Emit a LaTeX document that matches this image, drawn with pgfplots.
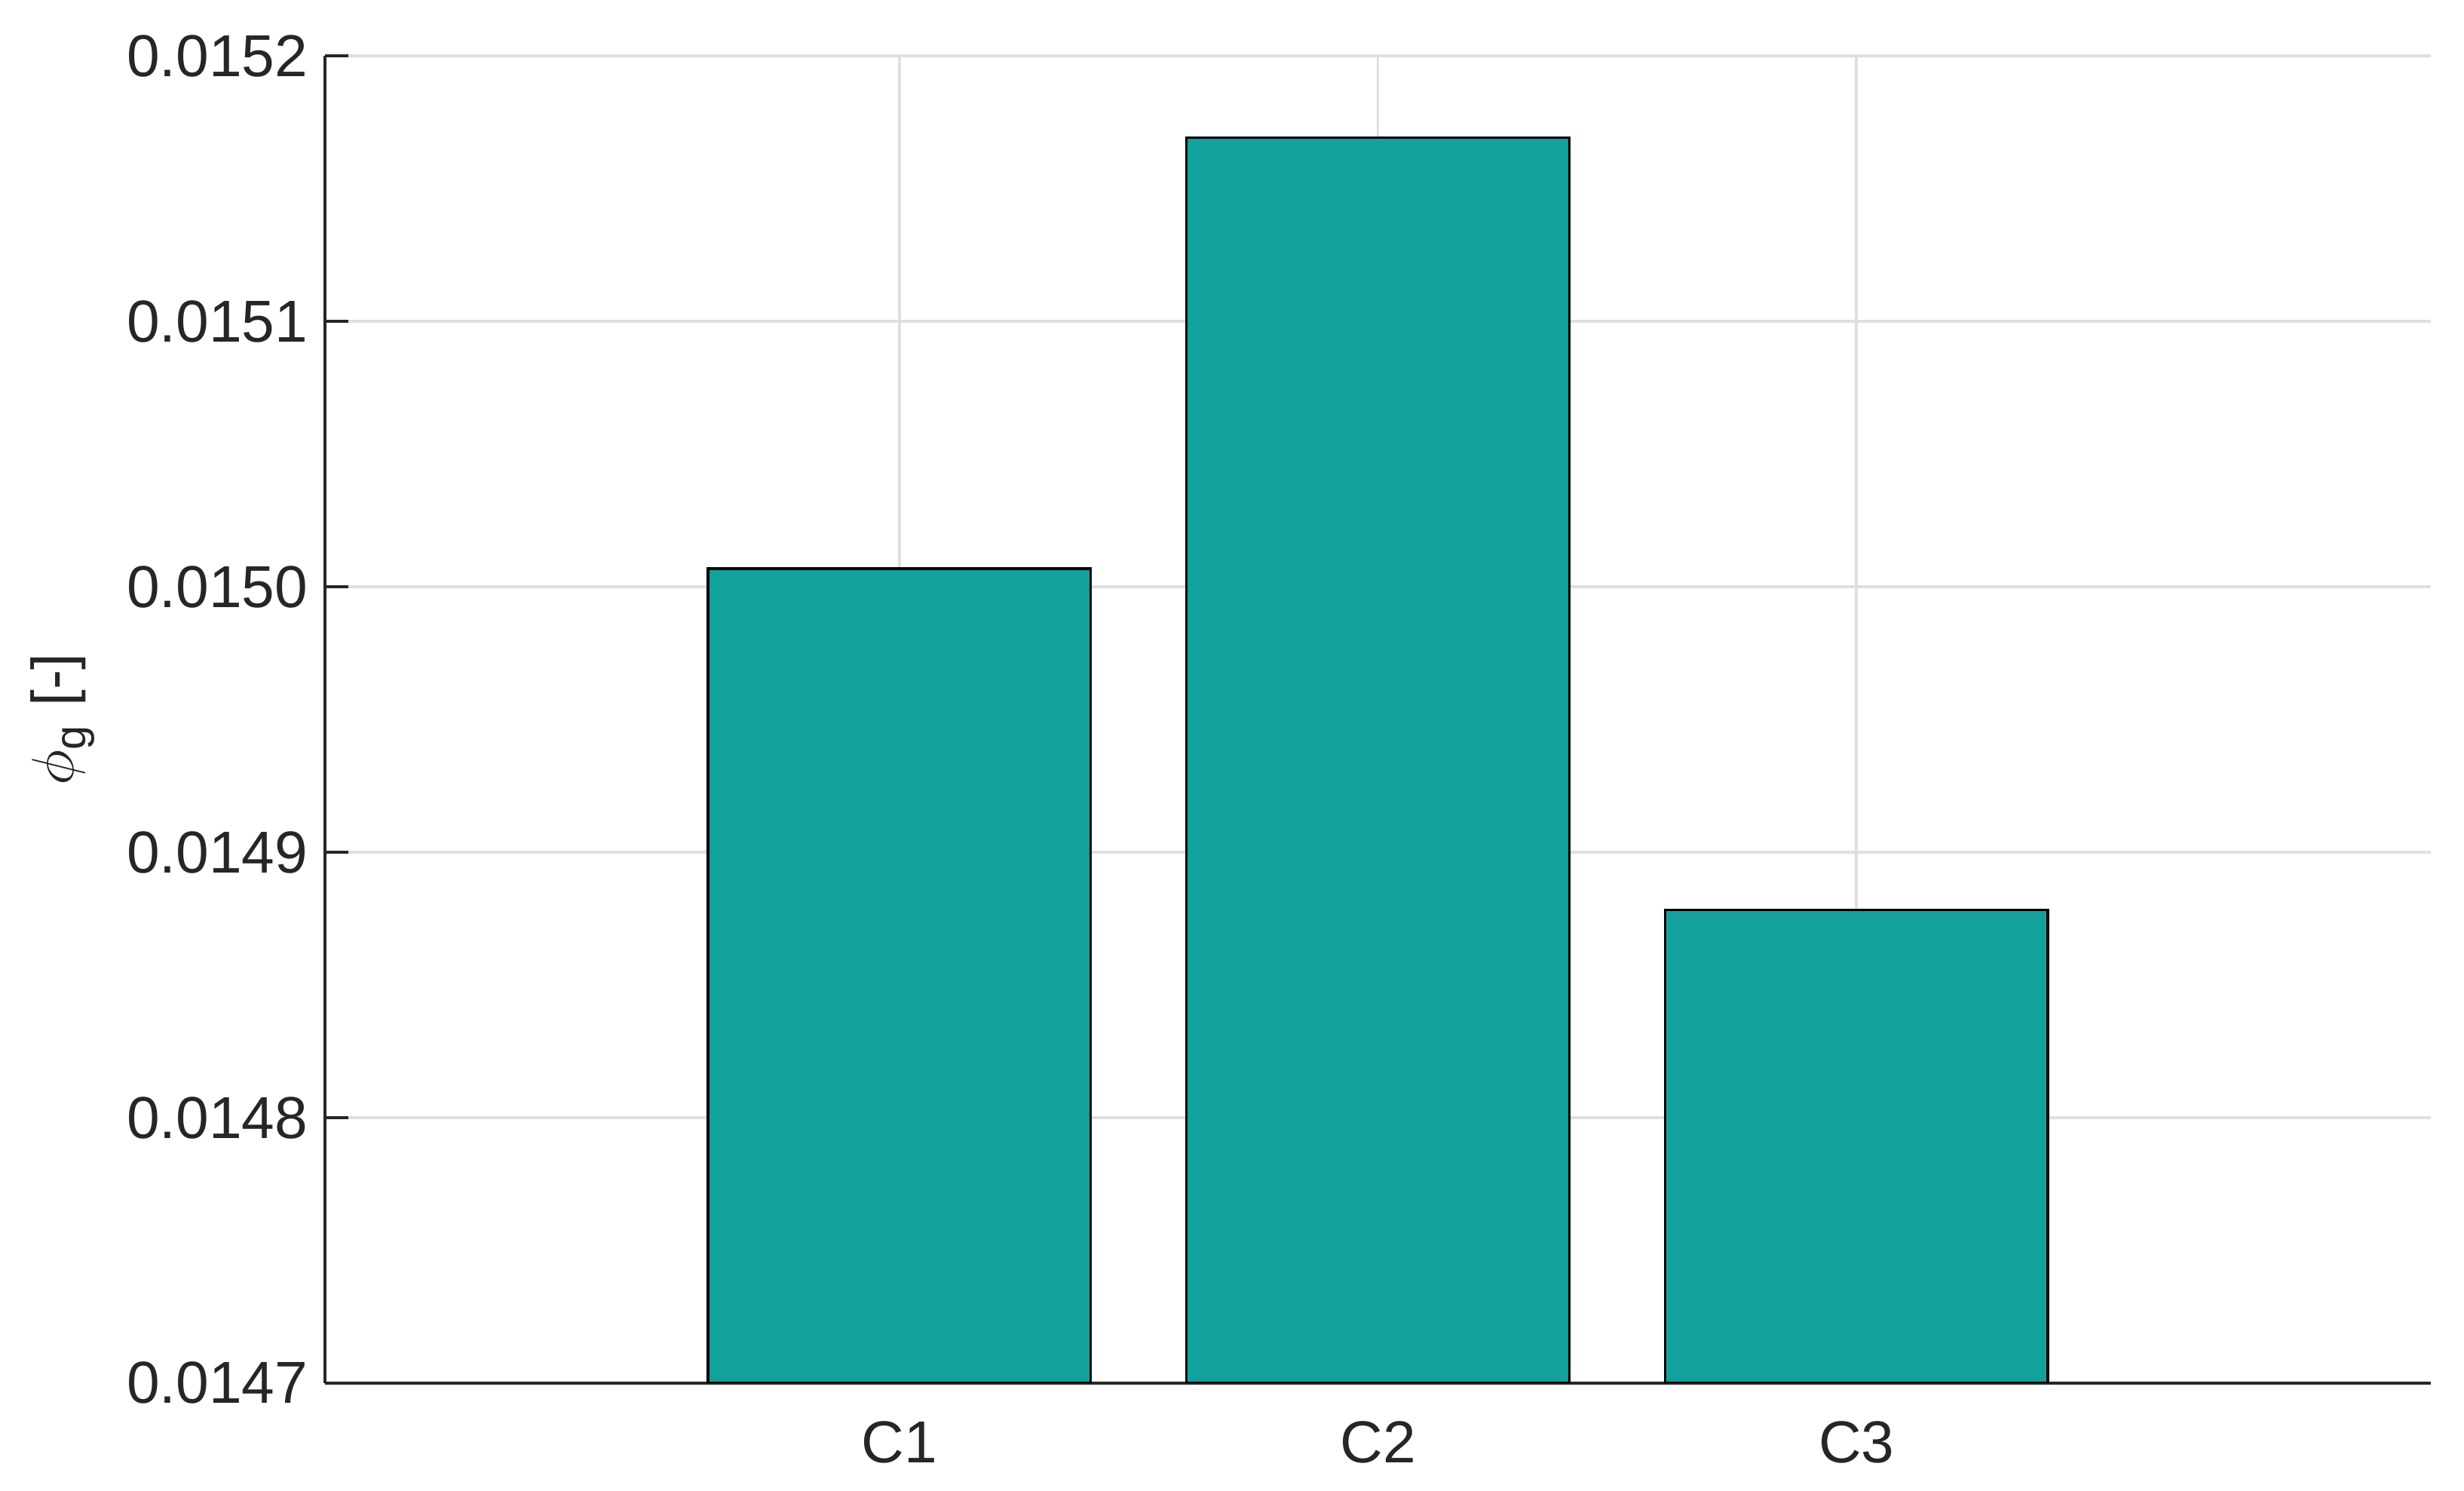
\documentclass[border=0pt]{standalone}
\usepackage{fontspec}
\setmainfont{Liberation Sans}
\usepackage{amsmath}
\usepackage{pgfplots}
\pgfplotsset{compat=1.18}
\definecolor{barteal}{HTML}{12A19C}
\definecolor{axgray}{HTML}{262626}
\definecolor{gridgray}{HTML}{DFDFDF}

\begin{document}
\begin{tikzpicture}
\begin{axis}[
  scale only axis, width=387.6pt, height=244.2pt,
  xmin=-0.2, xmax=4.2, ymin=0.0147, ymax=0.0152,
  axis lines*=left,
  axis line style={axgray, line width=0.55pt},
  xtick={1,2,3}, xticklabels={C1,C2,C3},
  ytick={0.0147,0.0148,0.0149,0.0150,0.0151,0.0152},
  scaled y ticks=false,
  yticklabel style={/pgf/number format/fixed, /pgf/number format/precision=4,
    /pgf/number format/fixed zerofill, /pgf/number format/assume math mode=true, xshift=0.4pt},
  tick align=inside, major tick length=4.3pt,
  ytick style={axgray, line width=0.55pt},
  xtick style={draw=none},
  xmajorgrids, ymajorgrids,
  grid style={gridgray, line width=0.55pt},
  tick label style={font=\fontsize{10.9}{13}\selectfont, text=axgray},
  xticklabel style={yshift=-3.5pt},
  ylabel={$\phi_{\raisebox{-0.6pt}{\fontsize{8}{9}\selectfont g}}$ [-]},
  ylabel style={font=\fontsize{10.9}{13}\selectfont, text=axgray, at={(axis description cs:-0.1246,0.5)}, anchor=center},
]
\addplot[ybar, bar width=0.8, fill=barteal, draw=black, line width=0.5pt]
  coordinates {(1,0.0150068) (2,0.0151692) (3,0.0148783)};
\coordinate (bl) at (rel axis cs:0,0);
\coordinate (tr) at (rel axis cs:1,1);
\end{axis}
\path ([xshift=-59.8pt,yshift=-19.8pt]bl) rectangle ([xshift=6.1pt,yshift=10.3pt]tr);
\end{tikzpicture}
\end{document}
